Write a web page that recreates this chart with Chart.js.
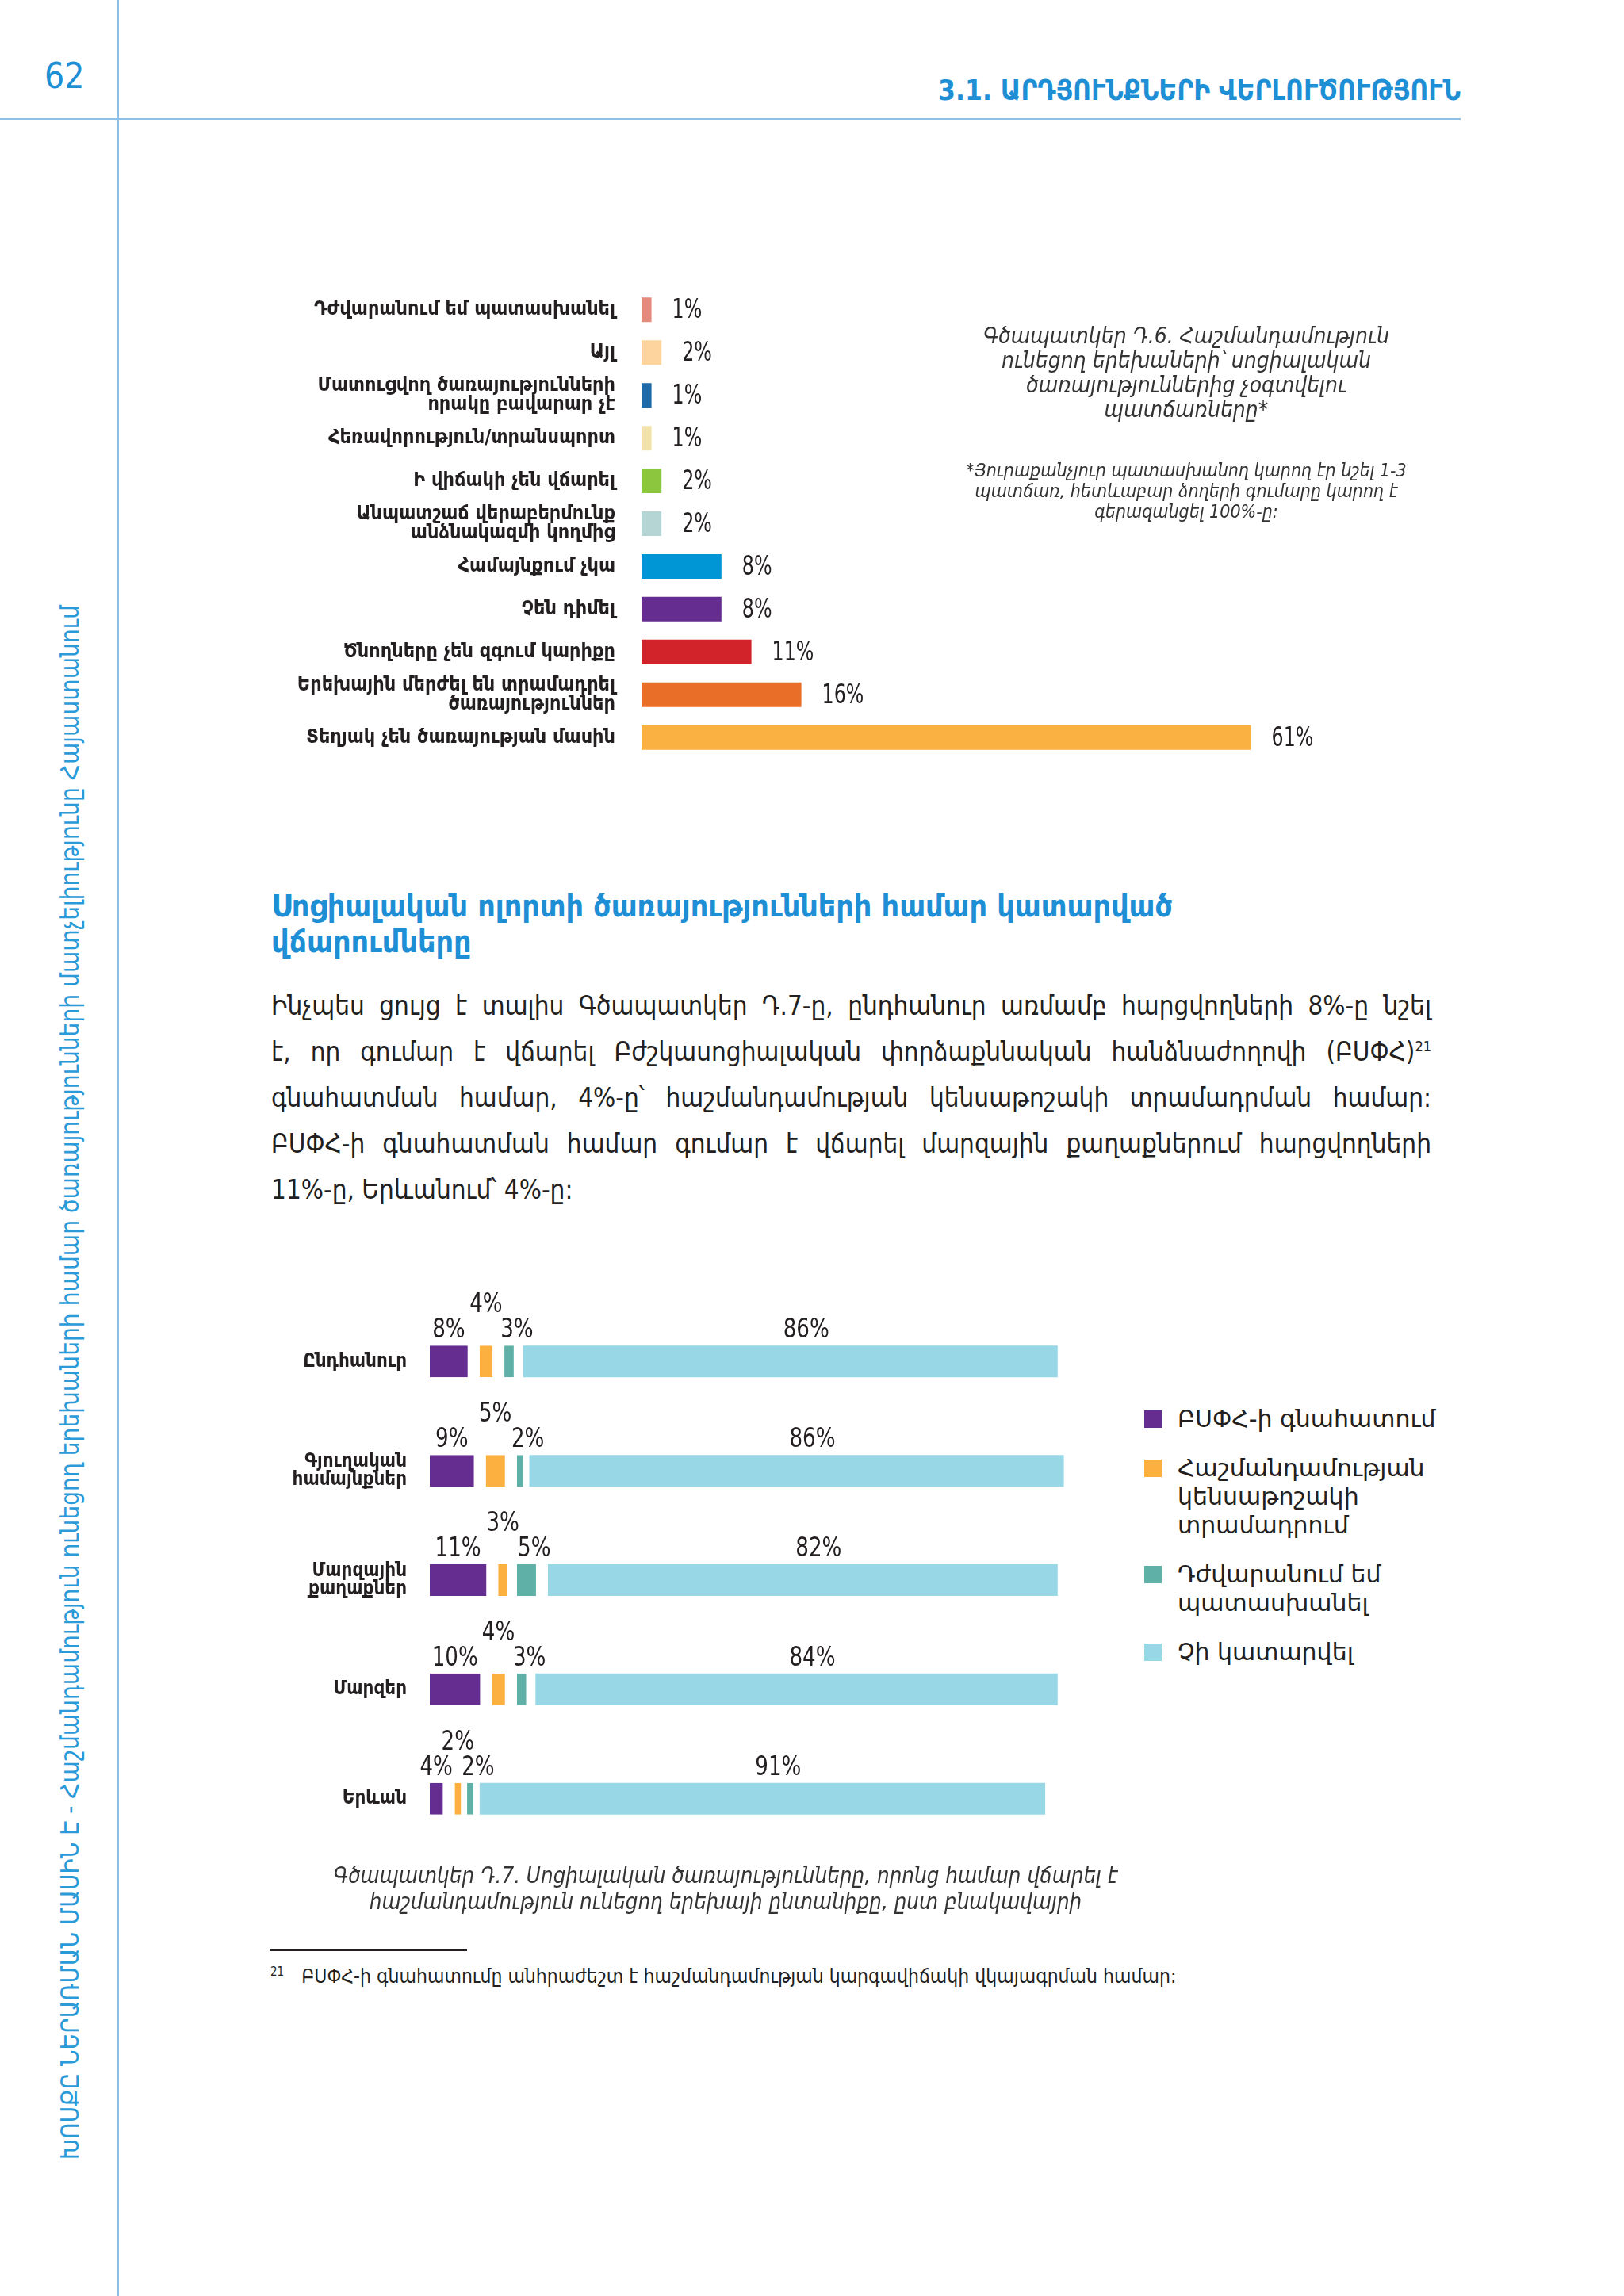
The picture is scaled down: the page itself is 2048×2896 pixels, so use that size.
<!DOCTYPE html>
<html lang="hy">
<head>
<meta charset="utf-8">
<script src="https://cdn.jsdelivr.net/npm/chart.js@4.4.1/dist/chart.umd.min.js"></script>
<style>
  html, body { margin: 0; padding: 0; background: #fff; }
  body { width: 2048px; height: 2896px; position: relative; overflow: hidden;
         font-family: 'DejaVu Sans Condensed', 'DejaVu Sans', sans-serif; color: #231f20; }
  .abs { position: absolute; }
  .vline { left: 148px; top: 0; width: 2px; height: 2896px; background: #8cc0e8; }
  .hline { left: 0; top: 149px; width: 1842px; height: 2px; background: #8cc0e8; }
  .pageno { left: 56px; top: 70px; font-size: 44px; color: #1e8fd5; }
  .header { right: 206px; top: 94px; font-size: 35px; font-weight: bold; color: #1e8fd5; white-space: nowrap; }
  .side { left: 72px; top: 2724px; width: 1967px; height: 32px; line-height: 32px; font-size: 31.3px;
          color: #2a9ad8; white-space: nowrap; transform-origin: left top; transform: rotate(-90deg); }
  .cap1 { left: 1196px; top: 408px; width: 600px; text-align: center; font-size: 28px; line-height: 31px;
          font-style: italic; color: #333; }
  .note1 { left: 1196px; top: 580px; width: 600px; text-align: center; font-size: 23px; line-height: 26px;
           font-style: italic; color: #333; }
  .heading { left: 342px; top: 1120px; font-size: 39px; line-height: 45px; font-weight: bold; color: #1e8fd5; }
  .para { left: 342px; top: 1240px; width: 1463px; font-size: 33px; line-height: 58px; color: #231f20; }
  .para div { text-align: justify; text-align-last: justify; }
  .para div.last { text-align-last: left; }
  .para sup { font-size: 18px; line-height: 0; }
  #legend { left: 1443px; top: 1772px; width: 420px; font-family: 'DejaVu Sans', sans-serif; }
  .item { display: flex; align-items: flex-start; margin-bottom: 26px; }
  .sw { width: 22px; height: 22px; margin-top: 7px; margin-right: 20px; flex: none; }
  .lt { width: 360px; font-size: 30px; line-height: 36px; color: #231f20; }
  .cap2 { left: 265px; top: 2349px; width: 1300px; text-align: center; font-size: 27.5px; line-height: 33px;
          font-style: italic; color: #333; }
  .rule { left: 341px; top: 2458px; width: 248px; height: 3px; background: #231f20; }
  .foot { left: 341px; top: 2478px; font-size: 24.5px; color: #231f20; white-space: nowrap; }
  .foot sup { font-size: 15px; margin-right: 22px; }
  canvas { position: absolute; }
</style>
</head>
<body>
<div class="abs vline"></div>
<div class="abs hline"></div>
<div class="abs pageno">62</div>
<div class="abs header">3.1. ԱՐԴՅՈՒՆՔՆԵՐԻ ՎԵՐԼՈՒԾՈՒԹՅՈՒՆ</div>
<div class="abs side">ԽՈՍՔԸ ՆԵՐԱՌՄԱՆ ՄԱՍԻՆ Է - Հաշմանդամություն ունեցող երեխաների համար ծառայությունների մատչելիությունը Հայաստանում</div>

<canvas id="reasonsChart" width="1454" height="683" style="left:300px; top:319px;"></canvas>

<div class="abs cap1">Գծապատկեր Դ.6. Հաշմանդամություն<br>ունեցող երեխաների՝ սոցիալական<br>ծառայություններից չօգտվելու<br>պատճառները*</div>
<div class="abs note1">*Յուրաքանչյուր պատասխանող կարող էր նշել 1-3<br>պատճառ, հետևաբար ձողերի գումարը կարող է<br>գերազանցել 100%-ը:</div>

<div class="abs heading">Սոցիալական ոլորտի ծառայությունների համար կատարված<br>վճարումները</div>
<div class="abs para">
  <div>Ինչպես ցույց է տալիս Գծապատկեր Դ.7-ը, ընդհանուր առմամբ հարցվողների 8%-ը նշել</div>
  <div>է, որ գումար է վճարել Բժշկասոցիալական փորձաքննական հանձնաժողովի (ԲՍՓՀ)<sup>21</sup></div>
  <div>գնահատման համար, 4%-ը՝ հաշմանդամության կենսաթոշակի տրամադրման համար:</div>
  <div>ԲՍՓՀ-ի գնահատման համար գումար է վճարել մարզային քաղաքներում հարցվողների</div>
  <div class="last">11%-ը, Երևանում՝ 4%-ը:</div>
</div>

<canvas id="paymentsChart" width="1120" height="770" style="left:300px; top:1608px;"></canvas>
<div class="abs" id="legend"></div>

<div class="abs cap2">Գծապատկեր Դ.7. Սոցիալական ծառայությունները, որոնց համար վճարել է<br>հաշմանդամություն ունեցող երեխայի ընտանիքը, ըստ բնակավայրի</div>
<div class="abs rule"></div>
<div class="abs foot"><sup>21</sup>ԲՍՓՀ-ի գնահատումը անհրաժեշտ է հաշմանդամության կարգավիճակի վկայագրման համար:</div>

<script>
// Գծապատկեր Դ.6 - չօգտվելու պատճառները
const reasonLabels = [
    'Դժվարանում եմ պատասխանել',
    'Այլ',
    ['Մատուցվող ծառայությունների', 'որակը բավարար չէ'],
    'Հեռավորություն/տրանսպորտ',
    'Ի վիճակի չեն վճարել',
    ['Անպատշաճ վերաբերմունք', 'անձնակազմի կողմից'],
    'Համայնքում չկա',
    'Չեն դիմել',
    'Ծնողները չեն զգում կարիքը',
    ['Երեխային մերժել են տրամադրել', 'ծառայություններ'],
    'Տեղյակ չեն ծառայության մասին'
];
const reasonValues = [1, 2, 1, 1, 2, 2, 8, 8, 11, 16, 61];
const reasonColors = ['#e58b7b', '#fdd49d', '#1f69a6', '#f2e3aa', '#8cc63f', '#b4d5d4',
                      '#0096d6', '#662d91', '#d2232a', '#e96f29', '#fbb042'];

// Գծապատկեր Դ.7 - վճարումներ ըստ բնակավայրի
const places = ['Ընդհանուր', ['Գյուղական', 'համայնքներ'], ['Մարզային', 'քաղաքներ'], 'Մարզեր', 'Երևան'];
const seriesNames = ['ԲՍՓՀ-ի գնահատում', 'Հաշմանդամության կենսաթոշակի տրամադրում',
                     'Դժվարանում եմ պատասխանել', 'Չի կատարվել'];
const assessValues = [8, 9, 11, 10, 4];
const pensionValues = [4, 5, 3, 4, 2];
const hardValues = [3, 2, 5, 3, 2];
const notPaidValues = [86, 86, 82, 84, 91];
const seriesColors = ['#662d91', '#fbb040', '#5fb1a7', '#97d7e6'];

const FONT = "'DejaVu Sans Condensed', 'DejaVu Sans', sans-serif";
Chart.defaults.font.family = FONT;
Chart.defaults.color = '#231f20';
Chart.defaults.animation = false;

// նեղ տառատեսակով տոկոս (սեղմված հորիզոնական)
function drawNarrow(ctx, text, x, y, sx) {
    ctx.save();
    ctx.translate(x, y);
    ctx.scale(sx, 1);
    ctx.fillText(text, 0, 0);
    ctx.restore();
}

// տոկոսները ձողերի աջ կողմում
const reasonValueLabels = {
    id: 'reasonValueLabels',
    afterDatasetsDraw(chart) {
        const ctx = chart.ctx;
        const meta = chart.getDatasetMeta(0);
        ctx.save();
        ctx.font = '33px ' + FONT;
        ctx.fillStyle = '#231f20';
        ctx.textAlign = 'left';
        ctx.textBaseline = 'middle';
        meta.data.forEach((bar, i) => {
            drawNarrow(ctx, reasonValues[i] + '%', bar.x + 26, bar.y + 2, 0.8);
        });
        ctx.restore();
    }
};

new Chart(document.getElementById('reasonsChart'), {
    type: 'bar',
    data: {
        labels: reasonLabels,
        datasets: [{
            data: reasonValues,
            backgroundColor: reasonColors,
            borderWidth: 0,
            categoryPercentage: 1,
            barPercentage: 0.575
        }]
    },
    options: {
        indexAxis: 'y',
        responsive: false,
        layout: { padding: 0 },
        plugins: { legend: { display: false }, tooltip: { enabled: false } },
        scales: {
            x: { display: false, min: 0, max: 75 },
            y: {
                grid: { display: false, drawTicks: false },
                border: { display: false },
                afterFit(scale) { scale.width = 509; },
                ticks: {
                    padding: 33,
                    color: '#231f20',
                    font: { size: 25, weight: 'bold', lineHeight: 0.95 }
                }
            }
        }
    },
    plugins: [reasonValueLabels]
});

// տոկոսները հատվածների վերևում
const labelShift = [0, 0, 10, 20];   // դասավորության շեղում ըստ շարքի
const segmentLabels = {
    id: 'segmentLabels',
    afterDatasetsDraw(chart) {
        const ctx = chart.ctx;
        ctx.save();
        ctx.font = '33px ' + FONT;
        ctx.fillStyle = '#231f20';
        ctx.textAlign = 'center';
        ctx.textBaseline = 'alphabetic';
        chart.data.datasets.forEach((ds, d) => {
            chart.getDatasetMeta(d).data.forEach((bar, i) => {
                const gap = d < 3 ? Math.min(15, (bar.x - bar.base) / 2) : 0;
                const cx = (bar.base + bar.x - gap) / 2 + labelShift[d];
                const top = bar.y - bar.height / 2;
                const y = d === 1 ? top - 42 : top - 10;
                drawNarrow(ctx, ds.data[i] + '%', cx, y, 0.88);
            });
        });
        ctx.restore();
    }
};

const seriesData = [assessValues, pensionValues, hardValues, notPaidValues];

new Chart(document.getElementById('paymentsChart'), {
    type: 'bar',
    data: {
        labels: places,
        datasets: seriesNames.map((name, d) => ({
            label: name,
            data: seriesData[d],
            backgroundColor: seriesColors[d],
            borderColor: '#ffffff',
            borderSkipped: false,
            borderWidth: d < 3 ? { top: 0, bottom: 0, left: 0, right: 15 } : 0,
            categoryPercentage: 1,
            barPercentage: 0.29
        }))
    },
    options: {
        indexAxis: 'y',
        responsive: false,
        layout: { padding: 0 },
        plugins: { legend: { display: false }, tooltip: { enabled: false } },
        scales: {
            x: { display: false, stacked: true, min: 0, max: 112 },
            y: {
                stacked: true,
                grid: { display: false, drawTicks: false },
                border: { display: false },
                afterFit(scale) { scale.width = 242; },
                ticks: {
                    padding: 29,
                    color: '#231f20',
                    font: { size: 24, weight: 'bold', lineHeight: 0.95 }
                }
            }
        }
    },
    plugins: [segmentLabels]
});

// լեգենդ
const legend = document.getElementById('legend');
seriesNames.forEach((name, d) => {
    const item = document.createElement('div');
    item.className = 'item';
    item.innerHTML = `<span class="sw" style="background:${seriesColors[d]}"></span><span class="lt">${name}</span>`;
    legend.appendChild(item);
});
</script>
</body>
</html>
